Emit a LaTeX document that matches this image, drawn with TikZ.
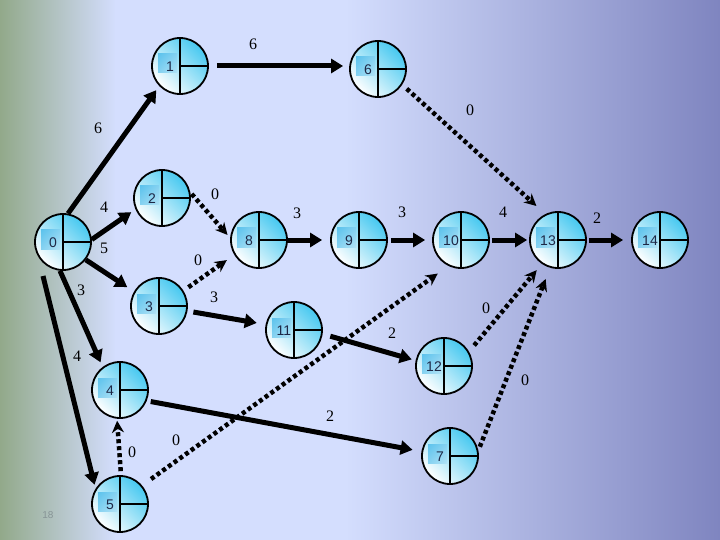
\documentclass[tikz,border=0pt]{standalone}
\usepackage{fontspec}
\setmainfont{Liberation Serif}
\newfontfamily\numfont{Liberation Sans}
\usetikzlibrary{arrows.meta}
\definecolor{bgL}{RGB}{146,169,138}
\definecolor{bgM}{RGB}{212,222,254}
\definecolor{bgR}{RGB}{127,133,192}
\definecolor{cyanA}{RGB}{70,200,240}
\definecolor{cyanS}{RGB}{80,190,235}
\definecolor{numcol}{RGB}{30,40,70}
\definecolor{pgcol}{RGB}{135,148,150}
\newcommand\evt[4]{\node[evt] (#1) at (#2,#3) {}; \node[num] (#1t) at ([xshift=-10pt,yshift=-1pt]#1.center) {#4};}
\begin{document}
\begin{tikzpicture}[x=1pt,y=-1pt,
  evt/.style={circle, minimum size=56pt, inner sep=0pt, line width=1.8pt, draw=black,
    top color=cyanA, bottom color=white, shading angle=-45,
    path picture={
      \shade[top color=cyanS, bottom color=white, shading angle=45]
        ([shift={(-22pt,12pt)}]path picture bounding box.center) rectangle
        ([shift={(-3pt,-7pt)}]path picture bounding box.center);
      \draw[line width=1.6pt] (path picture bounding box.north) -- (path picture bounding box.south);
      \draw[line width=1.6pt] (path picture bounding box.center) -- (path picture bounding box.east);
    }},
  num/.style={font=\numfont\fontsize{14}{14}\selectfont, text=numcol, inner sep=0pt},
  lbl/.style={font=\fontsize{16}{16}\selectfont, inner sep=0pt},
  sol/.style={line width=5pt, -{Triangle[length=12pt,width=14pt]}},
  dot/.style={line width=4.5pt, dash pattern=on 4pt off 3pt, -{Stealth[length=12pt,width=12pt]}}
]
% background
\useasboundingbox (0,0) rectangle (720,540);
\shade[left color=bgL, right color=bgM] (0,0) rectangle (116,540);
\fill[bgM] (115,0) rectangle (346,540);
\shade[left color=bgM, right color=bgR] (345,0) rectangle (720,540);

% events
\evt{n0}{63}{242}{0}
\evt{n1}{180}{66}{1}
\evt{n6}{378}{69}{6}
\evt{n2}{162}{198}{2}
\evt{n8}{259}{240}{8}
\evt{n9}{359}{240}{9}
\evt{n10}{461}{240}{10}
\evt{n13}{558}{240}{13}
\evt{n14}{660}{240}{14}
\evt{n3}{159}{306}{3}
\evt{n11}{294}{330}{11}
\evt{n12}{444}{366}{12}
\evt{n4}{120}{390}{4}
\evt{n5}{120}{504}{5}
\evt{n7}{450}{456}{7}

% activities
\draw[sol, shorten >=5pt] (n0.80) -- (n1.224);
\draw[sol, shorten <=8pt, shorten >=6pt] (n1.east) -- (n1.east -| n6.west);
\draw[dot, shorten <=6pt, shorten >=12pt] (n6.-33) -- (n13.116);
\draw[sol, shorten >=5pt] (n0.5) -- (n2.203);
\draw[dot, shorten <=2pt, shorten >=4pt] (n2.11) -- (n8.176);
\draw[sol, shorten >=8pt] (n0.-38) -- (n3.150);
\draw[dot, shorten <=6pt, shorten >=9pt] (n3.32) -- (n8.211);
\draw[sol, shorten >=8pt] (n8.east) -- (n9.west);
\draw[sol, shorten <=3pt, shorten >=7pt] (n9.east) -- (n10.west);
\draw[sol, shorten <=2pt, shorten >=2pt] (n10.east) -- (n13.west);
\draw[sol, shorten <=2pt, shorten >=8pt] (n13.east) -- (n14.west);
\draw[sol, shorten <=6pt, shorten >=9pt] (n3.-10) -- (n11.169);
\draw[sol, shorten <=8pt, shorten >=4pt] (n11.-8) -- (n12.169);
\draw[dot, shorten <=8pt, shorten >=8pt] (n12.30) -- (n13.236);
\draw[dot, shorten <=4pt, shorten >=12pt] (n7.11) -- (n13.254);
\draw[sol, shorten >=5pt] (n0.264) -- (n4.127);
\draw[sol, shorten >=4pt] ([shift={(-20,34)}]n0.center) -- (n5.148);
\draw[dot, shorten <=4pt, shorten >=2pt] (n5.88) -- (n4.264);
\draw[dot, shorten <=11pt, shorten >=13pt] (n5.40) -- (n10.244);
\draw[sol, shorten <=4pt, shorten >=9pt] (n4.-22) -- (n7.171);

% durations
\node[lbl] (d01) at (98,128) {6};
\node[lbl] (d16) at (253,44) {6};
\node[lbl] (d613) at (470,110) {0};
\node[lbl] (d02) at (104,207) {4};
\node[lbl] (d28) at (215,194) {0};
\node[lbl] (d89) at (297,213) {3};
\node[lbl] (d03) at (104,248) {5};
\node[lbl] (d38) at (198,260) {0};
\node[lbl] (d910) at (402,212) {3};
\node[lbl] (d1013) at (503,212) {4};
\node[lbl] (d1314) at (597,218) {2};
\node[lbl] (d04) at (81,290) {3};
\node[lbl] (d311) at (214,297) {3};
\node[lbl] (d05) at (77,356) {4};
\node[lbl] (d1112) at (392,333) {2};
\node[lbl] (d1213) at (486,308) {0};
\node[lbl] (d713) at (525,380) {0};
\node[lbl] (d47) at (330,416) {2};
\node[lbl] (d54) at (132,452) {0};
\node[lbl] (d510) at (176,440) {0};
\node[font=\numfont\fontsize{10}{10}\selectfont, text=pgcol, inner sep=0pt] (pg) at (48,515) {18};
\end{tikzpicture}
\end{document}
